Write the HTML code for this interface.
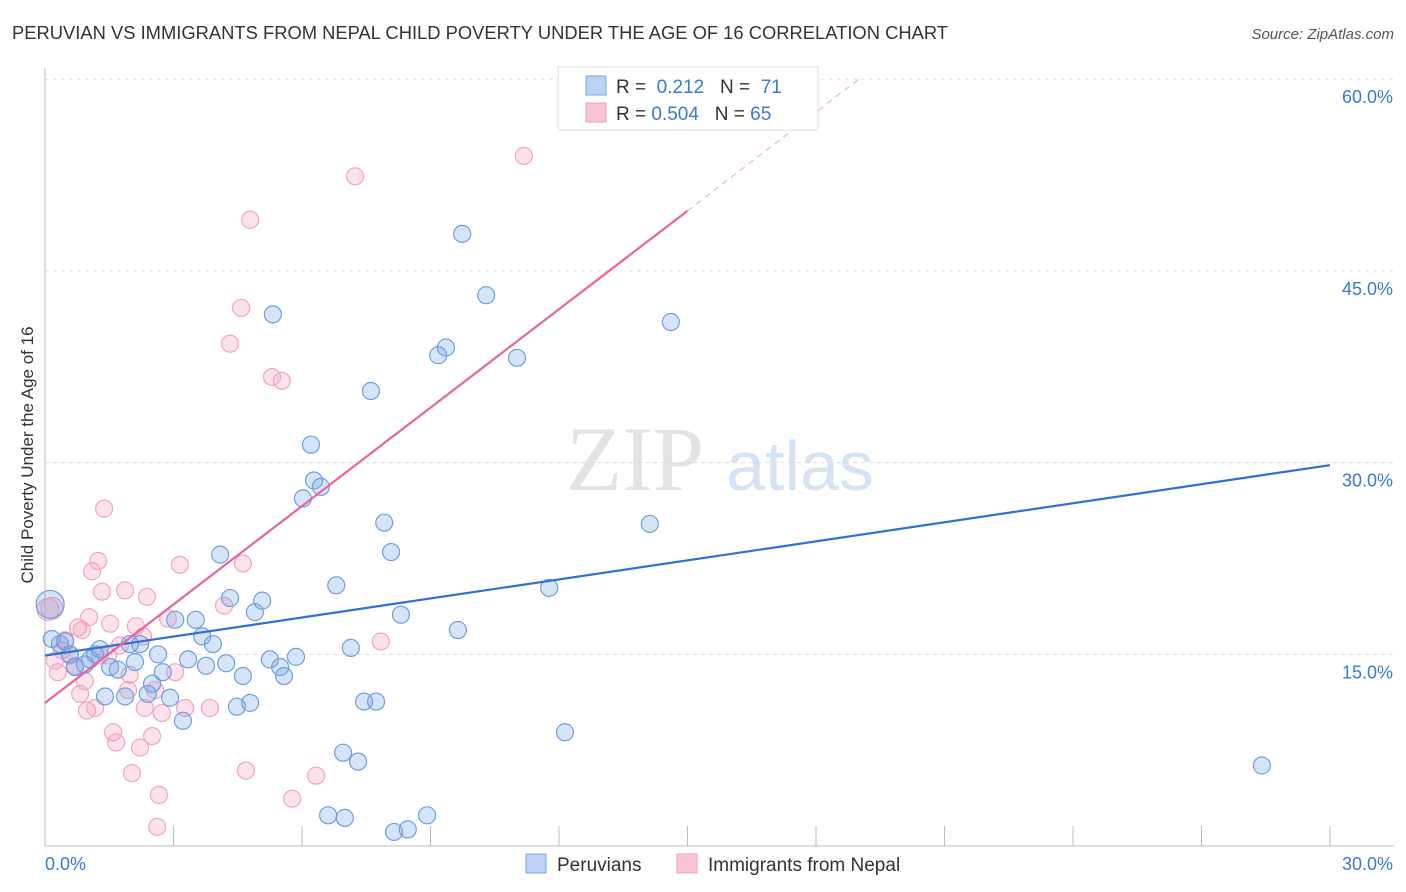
<!DOCTYPE html>
<html><head><meta charset="utf-8"><style>
body{margin:0;background:#fff;font-family:"Liberation Sans",sans-serif}
svg{display:block}
</style></head><body>
<svg id="chart" width="1406" height="892" viewBox="0 0 1406 892" xmlns="http://www.w3.org/2000/svg">
<text x="12" y="39" font-size="18" fill="#333" textLength="936" lengthAdjust="spacingAndGlyphs">PERUVIAN VS IMMIGRANTS FROM NEPAL CHILD POVERTY UNDER THE AGE OF 16 CORRELATION CHART</text>
<text x="1394" y="39" font-size="15" fill="#555" text-anchor="end" font-style="italic">Source: ZipAtlas.com</text>
<g>
<text x="635" y="490" font-size="92" fill="#e3e3e3" text-anchor="middle" font-family="Liberation Serif, serif">ZIP</text>
<text x="800" y="490" font-size="70" fill="#d6e3f3" text-anchor="middle">atlas</text>
</g>
<g id="grid"></g>
<g id="axes"></g>
<g id="pts"></g>
<g id="lines"></g>
<text transform="translate(33,455) rotate(-90)" font-size="17" fill="#333" text-anchor="middle">Child Poverty Under the Age of 16</text>
<g>
<rect x="558" y="67" width="260" height="63" fill="#fff" stroke="#ddd"/>
<rect x="586" y="76" width="20" height="19" fill="#bcd3f5" stroke="#7aa6e6"/>
<rect x="586" y="103" width="20" height="19" fill="#f9c5d5" stroke="#f0a0b8"/>
<text x="616" y="93" font-size="19" fill="#333">R = <tspan fill="#3a78d8">&#160;0.212</tspan>&#160;&#160;&#160;N = <tspan fill="#3a78d8">&#160;71</tspan></text>
<text x="616" y="120" font-size="19" fill="#333">R = <tspan fill="#3a78d8">0.504</tspan>&#160;&#160;&#160;N = <tspan fill="#3a78d8">65</tspan></text>
</g>
<g>
<rect x="526" y="854" width="20" height="19" fill="#bcd3f5" stroke="#7aa6e6"/>
<text x="557" y="871" font-size="19" fill="#333">Peruvians</text>
<rect x="677" y="854" width="20" height="19" fill="#f9c5d5" stroke="#f0a0b8"/>
<text x="708" y="871" font-size="19" fill="#333">Immigrants from Nepal</text>
</g>
</svg>
<script>
const yTicks=[15,30,45,60];
const yTickLabels=["15.0%","30.0%","45.0%","60.0%"];
const xTicks=[3,6,9,12,15,18,21,24,27,30];
const blueX=[0.12,0.16,0.35,0.47,0.58,0.7,0.93,1.05,1.17,1.28,1.4,1.52,1.7,1.87,1.98,2.1,2.22,2.4,2.5,2.64,2.75,2.92,3.04,3.22,3.34,3.52,3.67,3.76,3.92,4.09,4.23,4.32,4.48,4.62,4.79,4.9,5.07,5.25,5.32,5.49,5.58,5.86,6.02,6.21,6.28,6.44,6.61,6.8,6.96,7.0,7.14,7.31,7.45,7.61,7.73,7.92,8.08,8.15,8.31,8.47,8.92,9.18,9.36,9.64,9.74,10.3,11.02,11.77,12.14,14.12,14.61,28.41];
const blueY=[18.9,16.2,15.8,16.0,15.0,14.0,14.2,14.6,15.0,15.4,11.7,14.0,13.8,11.7,15.8,14.4,15.8,11.9,12.7,15.0,13.6,11.6,17.7,9.8,14.6,17.7,16.4,14.1,15.8,22.8,14.3,19.4,10.9,13.3,11.2,18.3,19.2,14.6,41.6,14.0,13.3,14.8,27.2,31.4,28.6,28.1,2.4,20.4,7.3,2.2,15.5,6.6,11.3,35.6,11.3,25.3,23.0,1.1,18.1,1.3,2.4,38.4,39.0,16.9,47.9,43.1,38.2,20.2,8.9,25.2,41.0,6.3];
const pinkX=[0.07,0.16,0.23,0.3,0.4,0.47,0.58,0.7,0.77,0.82,0.86,0.93,0.98,1.03,1.1,1.17,1.24,1.28,1.33,1.38,1.47,1.52,1.59,1.66,1.75,1.87,1.94,1.98,2.03,2.12,2.22,2.29,2.33,2.38,2.5,2.57,2.62,2.66,2.73,2.87,3.04,3.15,3.27,3.85,4.18,4.32,4.58,4.62,4.69,4.79,5.3,5.53,5.77,6.33,7.24,7.84,11.18];
const pinkY=[18.5,18.6,14.5,13.6,15.3,16.1,14.9,14.1,17.1,11.9,16.9,12.9,10.6,17.9,21.5,10.8,22.3,14.9,19.9,26.4,14.9,17.4,8.9,8.1,15.7,20.0,12.2,13.4,5.7,17.2,7.7,16.4,10.8,19.5,8.6,12.2,1.5,4.0,10.4,17.8,13.6,22.0,10.8,10.8,18.8,39.3,42.1,22.1,5.9,49.0,36.7,36.4,3.7,5.5,52.4,16.0,54.0];
const S="http://www.w3.org/2000/svg";
const X=v=>45+v*42.833, Y=v=>846-v*12.78;
function mk(t,a,p){const e=document.createElementNS(S,t);for(const k in a)e.setAttribute(k,a[k]);document.getElementById(p).appendChild(e);return e;}
yTicks.forEach((t,i)=>{
 const l=mk('line',{x1:45,x2:1394,y1:Y(t),y2:Y(t),stroke:'#ddd','stroke-dasharray':'4,4'},'grid');
 
 
 const tx=mk('text',{x:1393,y:Y(t)+24,'font-size':18,fill:'#3a78d8','text-anchor':'end'},'axes');
 tx.textContent=yTickLabels[i];
 
 
});
const ax=mk('line',{x1:45,x2:45,y1:68,y2:846,stroke:'#bbb'},'axes');


const bx=mk('line',{x1:45,x2:1394,y1:846,y2:846,stroke:'#bbb'},'axes');


xTicks.forEach(t=>{
 const l=mk('line',{x1:X(t),x2:X(t),y1:826,y2:846,stroke:'#bbb'},'axes');
 
 
});
const x0=mk('text',{x:45,y:870,'font-size':18,fill:'#3a78d8'},'axes');x0.textContent='0.0%';


const x1=mk('text',{x:1393,y:870,'font-size':18,fill:'#3a78d8','text-anchor':'end'},'axes');x1.textContent='30.0%';


pinkX.forEach((v,i)=>{
 const c=mk('circle',{cx:X(v),cy:Y(pinkY[i]),r:i<2?11:8.5,fill:'rgba(243,160,188,0.3)',stroke:'#f2a6bf','stroke-width':1.2},'pts');
 
 
});
blueX.forEach((v,i)=>{
 const c=mk('circle',{cx:X(v),cy:Y(blueY[i]),r:i==0?14:8.5,fill:'rgba(120,165,230,0.3)',stroke:'#6f9fe0','stroke-width':1.2},'pts');
 
 
});
const bl=mk('line',{x1:X(0),y1:Y(14.9),x2:X(30),y2:Y(29.8),stroke:'#2f6fd6','stroke-width':2.2},'lines');


const pl=mk('line',{x1:X(0),y1:Y(11.2),x2:X(15),y2:Y(49.7),stroke:'#e8649a','stroke-width':2.2},'lines');


const pd=mk('line',{x1:X(15),y1:Y(49.7),x2:X(19),y2:Y(60),stroke:'#f0b0c8','stroke-width':1.2,'stroke-dasharray':'6,5'},'lines');


</script>
</body></html>
